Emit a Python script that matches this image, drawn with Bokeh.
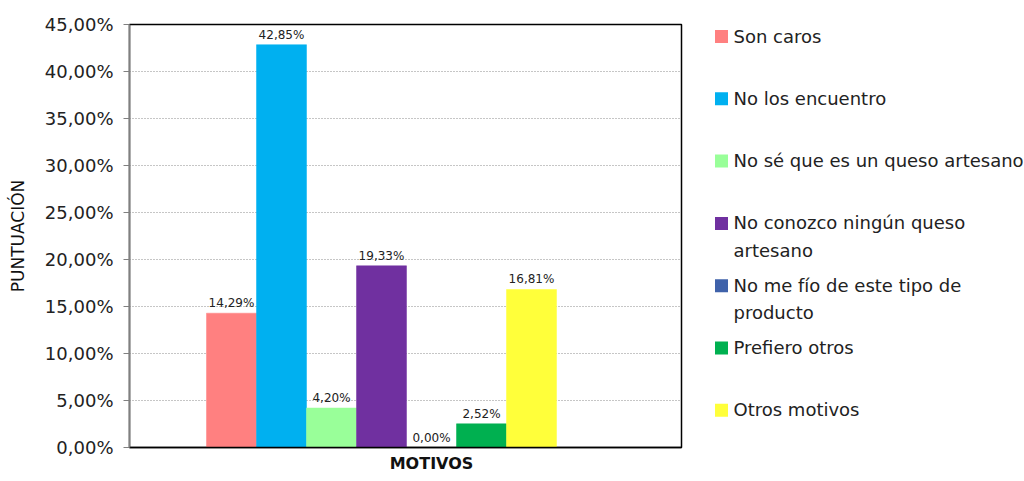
from bokeh.plotting import figure
from bokeh.layouts import row
from bokeh.models import ColumnDataSource, Range1d, CustomJSTickFormatter, FixedTicker
from bokeh.core.properties import value
from bokeh.embed import file_html
from bokeh.resources import INLINE

# Survey answers: reasons for not buying artisan cheese
motivos = [
    "Son caros",
    "No los encuentro",
    "No sé que es un queso artesano",
    "No conozco ningún queso\nartesano",
    "No me fío de este tipo de\nproducto",
    "Prefiero otros",
    "Otros motivos",
]
puntuacion = [0.1429, 0.4285, 0.0420, 0.1933, 0.0000, 0.0252, 0.1681]
colores = ["#FF8080", "#00B0F0", "#99FF99", "#7030A0", "#3F62AA", "#00B050", "#FFFF3A"]
titulo_x = "MOTIVOS"
titulo_y = "PUNTUACIÓN"

FONT = "DejaVu Sans"

etiquetas = [f"{v * 100:.2f}".replace(".", ",") + "%" for v in puntuacion]
src = ColumnDataSource(dict(
    x=list(range(len(motivos))),
    top=puntuacion,
    color=colores,
    label=etiquetas,
))

p = figure(width=700, height=481, output_backend="svg", toolbar_location=None,
           x_range=Range1d(-2.04, 9.0), y_range=Range1d(0, 0.45),
           min_border_left=129, min_border_top=24, min_border_bottom=34,
           min_border_right=19)
p.background_fill_color = "white"
p.border_fill_color = "white"
p.outline_line_color = "black"
p.outline_line_width = 1.5

p.vbar(x="x", top="top", width=1.0, fill_color="color", line_color="color",
       line_width=0.5, source=src)
p.text(x="x", y="top", text="label", source=src, text_align="center",
       text_baseline="alphabetic", y_offset=-10, text_font=value(FONT),
       text_font_size="12px", text_color="#222222")

# Y axis as percentages with a decimal comma
p.yaxis.ticker = [i * 0.05 for i in range(10)]
p.yaxis.formatter = CustomJSTickFormatter(
    code="return (tick * 100).toFixed(2).replace('.', ',') + '%';")
p.yaxis.major_label_text_font = FONT
p.yaxis.major_label_text_font_size = "18px"
p.yaxis.major_label_text_color = "#222222"
p.yaxis.axis_line_color = "#808080"
p.yaxis.axis_line_width = 1.5
p.yaxis.major_tick_line_color = "#808080"
p.yaxis.major_tick_out = 6
p.yaxis.major_tick_in = 0
p.yaxis.minor_tick_line_color = None
p.yaxis.major_label_standoff = 10
p.yaxis.axis_label = titulo_y
p.yaxis.axis_label_text_font = FONT
p.yaxis.axis_label_text_font_size = "17px"
p.yaxis.axis_label_text_font_style = "normal"
p.yaxis.axis_label_text_color = "#111111"
p.yaxis.axis_label_standoff = 14

# The category axis carries a single title, set under the middle of the bars
TITLE_POS = 4
p.xaxis.ticker = FixedTicker(ticks=[TITLE_POS])
p.xaxis.major_label_overrides = {TITLE_POS: titulo_x}
p.xaxis.major_label_text_font = FONT
p.xaxis.major_label_text_font_size = "16px"
p.xaxis.major_label_text_font_style = "bold"
p.xaxis.major_label_text_color = "#111111"
p.xaxis.major_label_standoff = 6
p.xaxis.major_tick_out = 0
p.xaxis.major_tick_in = 0
p.xaxis.axis_line_color = "black"
p.xaxis.axis_line_width = 1.5
p.xaxis.major_tick_line_color = None
p.xaxis.minor_tick_line_color = None

p.xgrid.grid_line_color = None
p.ygrid.grid_line_color = "#8C8C8C"
p.ygrid.grid_line_dash = "1 2"
p.ygrid.grid_line_width = 1.2

# Legend panel; its frame lines up with the chart frame (pixel rows 24..447)
leg = figure(width=324, height=481, output_backend="svg", toolbar_location=None,
             x_range=Range1d(0, 324), y_range=Range1d(447, 24),
             min_border=0)
leg.axis.visible = False
leg.grid.visible = False
leg.outline_line_color = None
leg.background_fill_color = "white"
leg.border_fill_color = "white"

step = 62.3
ys = [36 + step * i for i in range(len(motivos))]
lsrc = ColumnDataSource(dict(y=ys, color=colores, label=motivos))
leg.rect(x=21, y="y", width=13, height=13, fill_color="color", line_color=None,
         source=lsrc)
leg.text(x=33, y="y", text="label", source=lsrc, text_align="left",
         text_baseline="top", y_offset=-11, text_font=value(FONT),
         text_font_size="18px", text_color="#222222", text_line_height=1.3)

layout = row(p, leg, spacing=0)
open("out.html", "w").write(file_html(layout, INLINE))
